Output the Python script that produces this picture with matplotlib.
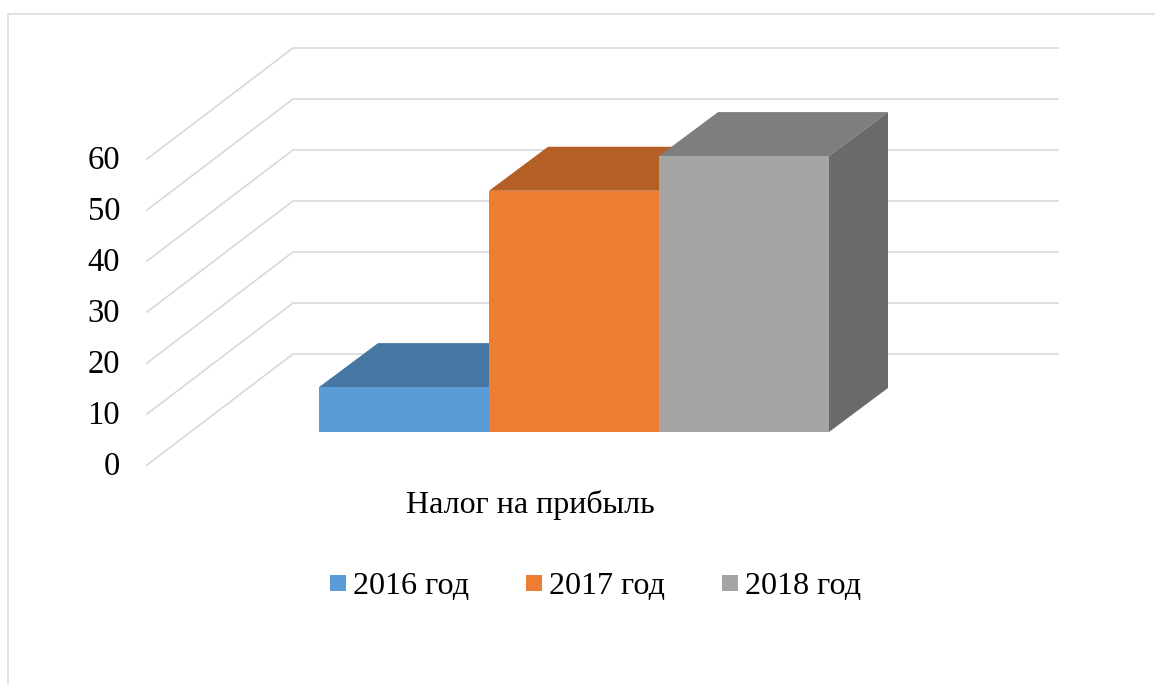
import matplotlib
matplotlib.use("Agg")
import matplotlib.pyplot as plt
from matplotlib.patches import Polygon, Rectangle

# данные
years = ['2016 год', '2017 год', '2018 год']
values = [8.8, 47.3, 54.1]
category = 'Налог на прибыль'
ticks = [0, 10, 20, 30, 40, 50, 60]

colors_front = ['#5B9BD5', '#ED7D31', '#A5A5A5']
colors_top = ['#4676A2', '#B45F25', '#7E7E7E']
colors_side = ['#3E6990', '#A05421', '#6A6A6A']

W, H = 1155, 684
PX = 5.1           # пикселей на единицу оси
Y0 = 463           # положение нуля на передней грани

plt.rcParams['font.family'] = ['Liberation Serif', 'DejaVu Serif']

fig = plt.figure(figsize=(W / 100, H / 100), dpi=100)
ax = fig.add_axes([0, 0, 1, 1])
ax.set_xlim(0, W)
ax.set_ylim((Y0 - H) / PX, Y0 / PX)
ax.axis('off')


def dy(px):
    return px / PX


# рамка
grid_c = '#D9D9D9'
ax.plot([8, 8, 1155], [dy(Y0 - 684), dy(Y0 - 14), dy(Y0 - 14)], color='#DDDDDD', lw=1.2)

# сетка: косая линия + задняя стенка
for t in ticks:
    ax.plot([147, 293, 1058], [t + dy(-2), t + dy(109), t + dy(109)], color=grid_c, lw=1.2, zorder=1)

# столбцы
x_edges = [319, 489, 659, 829]
base = dy(Y0 - 432)
depth_x, depth_y = 59, dy(44)
for i, v in enumerate(values):
    x0, x1 = x_edges[i], x_edges[i + 1]
    top = base + v
    ax.add_patch(Polygon([(x0, top), (x1, top), (x1 + depth_x, top + depth_y), (x0 + depth_x, top + depth_y)],
                         facecolor=colors_top[i], edgecolor='none', zorder=2 + i))
    ax.add_patch(Polygon([(x1, base), (x1 + depth_x, base + depth_y), (x1 + depth_x, top + depth_y), (x1, top)],
                         facecolor=colors_side[i], edgecolor='none', zorder=2 + i))
    ax.add_patch(Rectangle((x0, base), x1 - x0, v, facecolor=colors_front[i], edgecolor='none', zorder=2 + i))

# подписи оси
for t in ticks:
    ax.text(120, t - dy(3.5), str(t), ha='right', va='center', fontsize=23.5, color='black')
ax.text(530, dy(Y0 - 505), category, ha='center', va='center', fontsize=23, color='black')

# легенда
for name, c, xs in zip(years, colors_front, [330, 526, 722]):
    ax.add_patch(Rectangle((xs, dy(Y0 - 591)), 16, dy(16), facecolor=c, edgecolor='none'))
    ax.text(xs + 23, dy(Y0 - 586), name, ha='left', va='center', fontsize=23.1, color='black')

fig.savefig('out.png', dpi=100)
